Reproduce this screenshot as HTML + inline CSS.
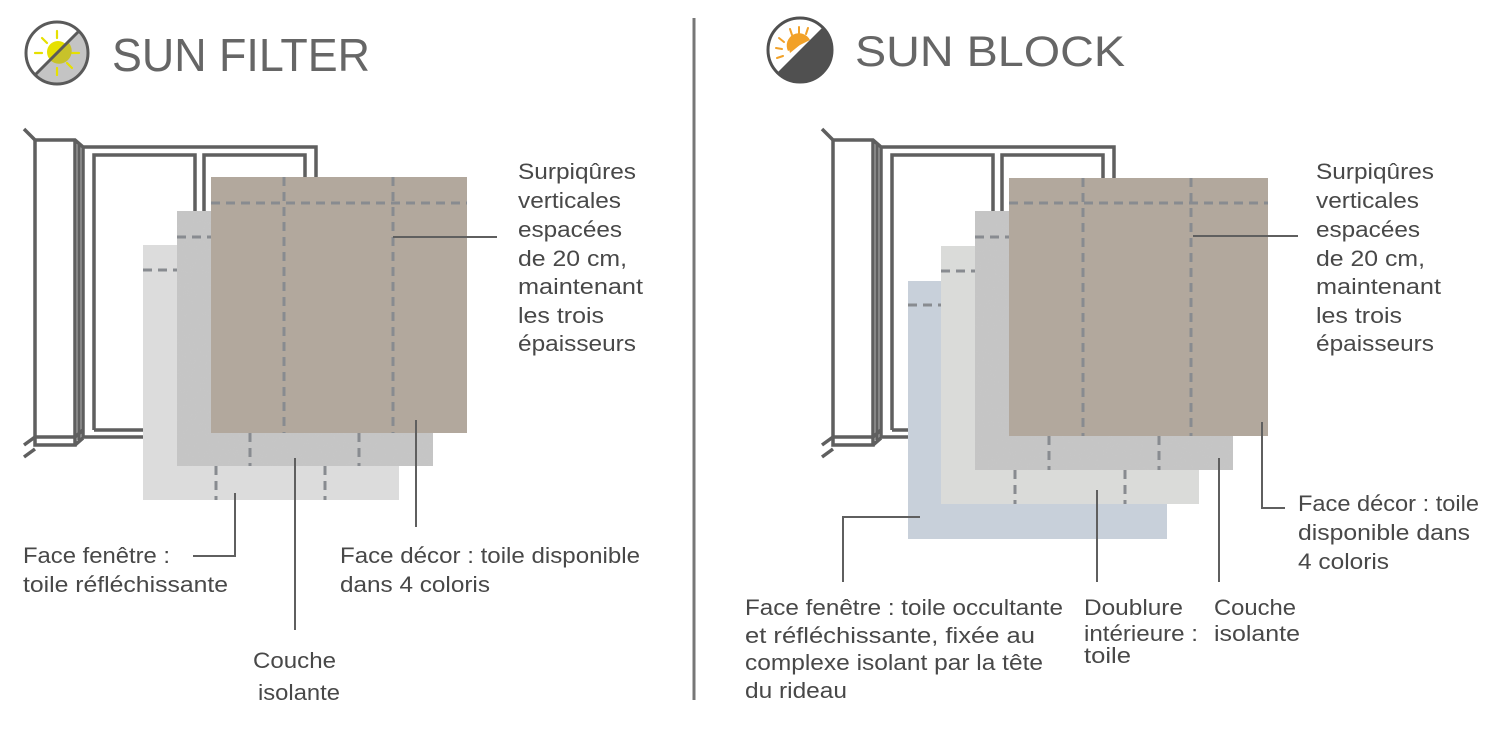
<!DOCTYPE html>
<html><head><meta charset="utf-8"><style>
html,body{margin:0;padding:0;background:#fff;}
svg{display:block;}
text{font-family:"Liberation Sans",sans-serif;fill:#484848;font-size:22px;}
.t{fill:#666;font-size:46px;}
</style></head><body>
<svg width="1500" height="732" viewBox="0 0 1500 732" xmlns="http://www.w3.org/2000/svg">
<defs>
<filter id="tex" x="0" y="0" width="100%" height="100%">
<feTurbulence type="fractalNoise" baseFrequency="0.9" numOctaves="2" seed="3" result="n"/>
<feColorMatrix in="n" type="matrix" values="0 0 0 0 0.55  0 0 0 0 0.55  0 0 0 0 0.55  0 0 0 0.3 0" result="m"/>
<feComposite in="m" in2="SourceGraphic" operator="in" result="c"/>
<feMerge><feMergeNode in="SourceGraphic"/><feMergeNode in="c"/></feMerge>
</filter>
<g id="win" fill="none" stroke="#5f5f5f" stroke-width="3.5" stroke-linejoin="miter">
<path d="M24 129 L35 140 L75 140 L83 147 L316 147 L316 180"/>
<path d="M35 140 L35 445 L75 445 L75 140"/>
<path d="M79 143 L79 440"/>
<path d="M83 147 L83 437 L150 437"/>
<path d="M35 437 L75 437 L83 430"/>
<path d="M75 445 L83 438"/>
<path d="M24 445 L35 437 M24 457 L35 449"/>
<path d="M94 430 L94 155 L195 155 L195 215 M94 430 L150 430"/>
<path d="M204 215 L204 155 L305 155 L305 180"/>
</g>
</defs>

<line x1="694" y1="18" x2="694" y2="700" stroke="#777" stroke-width="3"/>

<!-- LEFT ICON -->
<circle cx="57" cy="53" r="31" fill="#fff"/>
<path d="M79 31 A31 31 0 0 1 35 75 Z" fill="#c4c4c4"/>
<g stroke="#e6e000" stroke-width="2.2" stroke-linecap="round">
<line x1="57" y1="31" x2="57" y2="38"/><line x1="42" y1="38" x2="47" y2="43"/><line x1="72" y1="38" x2="67" y2="43"/>
<line x1="35" y1="53" x2="42" y2="53"/><line x1="79" y1="53" x2="72" y2="53"/><line x1="42" y1="68" x2="47" y2="63"/>
<line x1="57" y1="75" x2="57" y2="68"/><line x1="72" y1="68" x2="67" y2="63"/>
</g>
<circle cx="58" cy="52" r="11" fill="#e6e000"/>
<path d="M68 42 A11 11 0 0 1 50 60 Z" fill="#c8c22a"/>
<line x1="79" y1="31" x2="35" y2="75" stroke="#5a5a5a" stroke-width="3"/>
<circle cx="57" cy="53" r="31" fill="none" stroke="#5a5a5a" stroke-width="3"/>
<text class="t" x="112" y="71" textLength="258" lengthAdjust="spacingAndGlyphs">SUN FILTER</text>

<!-- RIGHT ICON -->
<circle cx="800" cy="50" r="32" fill="#fff"/>
<path d="M823 27 A32 32 0 0 1 777 73 Z" fill="#505050"/>
<g stroke="#f2a128" stroke-width="2" stroke-linecap="round">
<line x1="790" y1="29" x2="792" y2="35"/><line x1="799" y1="27" x2="799" y2="33"/><line x1="808" y1="28" x2="806" y2="34"/>
<line x1="779" y1="38" x2="784" y2="42"/><line x1="776" y1="48" x2="782" y2="49"/><line x1="777" y1="58" x2="783" y2="56"/>
</g>
<path d="M810 40 A11 11 0 0 0 788 51 Z" fill="#f2a128"/>
<path d="M790 53 A11 11 0 0 1 806 40 Z" fill="#f2a128"/>
<circle cx="800" cy="50" r="32" fill="none" stroke="#505050" stroke-width="3"/>
<text class="t" x="855" y="66" textLength="270" lengthAdjust="spacingAndGlyphs" style="font-size:43px">SUN BLOCK</text>

<!-- LEFT WINDOW + LAYERS -->
<use href="#win"/>
<rect x="143" y="245" width="256" height="255" fill="#dcdcdc"/>
<rect x="177" y="211" width="256" height="255" fill="#c6c6c6" filter="url(#tex)"/>
<rect x="211" y="177" width="256" height="256" fill="#b2a89d"/>
<g stroke="#888b90" stroke-width="3" stroke-dasharray="9 6" fill="none">
<line x1="211" y1="203" x2="467" y2="203"/>
<line x1="284" y1="177" x2="284" y2="433"/>
<line x1="393" y1="177" x2="393" y2="433"/>
<line x1="177" y1="237" x2="211" y2="237"/>
<line x1="250" y1="433" x2="250" y2="466"/>
<line x1="359" y1="433" x2="359" y2="466"/>
<line x1="143" y1="270" x2="177" y2="270"/>
<line x1="216" y1="466" x2="216" y2="500"/>
<line x1="325" y1="466" x2="325" y2="500"/>
</g>
<g stroke="#5f5f5f" stroke-width="2" fill="none">
<path d="M393 237 L497 237"/>
<path d="M416 420 L416 527"/>
<path d="M295 458 L295 630"/>
<path d="M235 493 L235 556 L193 556"/>
</g>

<!-- RIGHT WINDOW + LAYERS -->
<use href="#win" x="798"/>
<rect x="908" y="281" width="259" height="258" fill="#c8d0da"/>
<rect x="941" y="246" width="258" height="258" fill="#dadbd9"/>
<rect x="975" y="211" width="258" height="259" fill="#c6c6c6" filter="url(#tex)"/>
<rect x="1009" y="178" width="259" height="258" fill="#b2a89d"/>
<g stroke="#888b90" stroke-width="3" stroke-dasharray="9 6" fill="none">
<line x1="1009" y1="203" x2="1268" y2="203"/>
<line x1="1083" y1="178" x2="1083" y2="436"/>
<line x1="1191" y1="178" x2="1191" y2="436"/>
<line x1="975" y1="237" x2="1009" y2="237"/>
<line x1="1049" y1="436" x2="1049" y2="470"/>
<line x1="1159" y1="436" x2="1159" y2="470"/>
<line x1="941" y1="271" x2="975" y2="271"/>
<line x1="1015" y1="470" x2="1015" y2="504"/>
<line x1="1125" y1="470" x2="1125" y2="504"/>
<line x1="908" y1="305" x2="941" y2="305"/>
</g>
<g stroke="#5f5f5f" stroke-width="2" fill="none">
<path d="M1193 236 L1298 236"/>
<path d="M1262 422 L1262 508 L1285 508"/>
<path d="M1219 458 L1219 582"/>
<path d="M1097 490 L1097 582"/>
<path d="M920 517 L843 517 L843 582"/>
</g>

<!-- LEFT TEXT -->
<text x="518" y="179" textLength="118" lengthAdjust="spacingAndGlyphs">Surpiqûres</text>
<text x="518" y="208" textLength="103" lengthAdjust="spacingAndGlyphs">verticales</text>
<text x="518" y="237" textLength="104" lengthAdjust="spacingAndGlyphs">espacées</text>
<text x="518" y="266" textLength="109" lengthAdjust="spacingAndGlyphs">de 20 cm,</text>
<text x="518" y="294" textLength="125" lengthAdjust="spacingAndGlyphs">maintenant</text>
<text x="518" y="323" textLength="86" lengthAdjust="spacingAndGlyphs">les trois</text>
<text x="518" y="351" textLength="118" lengthAdjust="spacingAndGlyphs">épaisseurs</text>

<text x="23" y="563" textLength="147" lengthAdjust="spacingAndGlyphs">Face fenêtre :</text>
<text x="23" y="592" textLength="205" lengthAdjust="spacingAndGlyphs">toile réfléchissante</text>
<text x="340" y="563" textLength="300" lengthAdjust="spacingAndGlyphs">Face décor : toile disponible</text>
<text x="340" y="592" textLength="150" lengthAdjust="spacingAndGlyphs">dans 4 coloris</text>
<text x="253" y="668" textLength="83" lengthAdjust="spacingAndGlyphs">Couche</text>
<text x="258" y="700" textLength="82" lengthAdjust="spacingAndGlyphs">isolante</text>

<!-- RIGHT TEXT -->
<text x="1316" y="179" textLength="118" lengthAdjust="spacingAndGlyphs">Surpiqûres</text>
<text x="1316" y="208" textLength="103" lengthAdjust="spacingAndGlyphs">verticales</text>
<text x="1316" y="237" textLength="104" lengthAdjust="spacingAndGlyphs">espacées</text>
<text x="1316" y="266" textLength="109" lengthAdjust="spacingAndGlyphs">de 20 cm,</text>
<text x="1316" y="294" textLength="125" lengthAdjust="spacingAndGlyphs">maintenant</text>
<text x="1316" y="323" textLength="86" lengthAdjust="spacingAndGlyphs">les trois</text>
<text x="1316" y="351" textLength="118" lengthAdjust="spacingAndGlyphs">épaisseurs</text>

<text x="1298" y="511" textLength="181" lengthAdjust="spacingAndGlyphs">Face décor : toile</text>
<text x="1298" y="540" textLength="172" lengthAdjust="spacingAndGlyphs">disponible dans</text>
<text x="1298" y="569" textLength="91" lengthAdjust="spacingAndGlyphs">4 coloris</text>

<text x="745" y="615" textLength="318" lengthAdjust="spacingAndGlyphs">Face fenêtre : toile occultante</text>
<text x="745" y="643" textLength="290" lengthAdjust="spacingAndGlyphs">et réfléchissante, fixée au</text>
<text x="745" y="670" textLength="298" lengthAdjust="spacingAndGlyphs">complexe isolant par la tête</text>
<text x="745" y="698" textLength="102" lengthAdjust="spacingAndGlyphs">du rideau</text>

<text x="1084" y="615" textLength="99" lengthAdjust="spacingAndGlyphs">Doublure</text>
<text x="1084" y="641" textLength="114" lengthAdjust="spacingAndGlyphs">intérieure :</text>
<text x="1084" y="663" textLength="47" lengthAdjust="spacingAndGlyphs">toile</text>
<text x="1214" y="615" textLength="82" lengthAdjust="spacingAndGlyphs">Couche</text>
<text x="1214" y="641" textLength="86" lengthAdjust="spacingAndGlyphs">isolante</text>
</svg>
</body></html>
